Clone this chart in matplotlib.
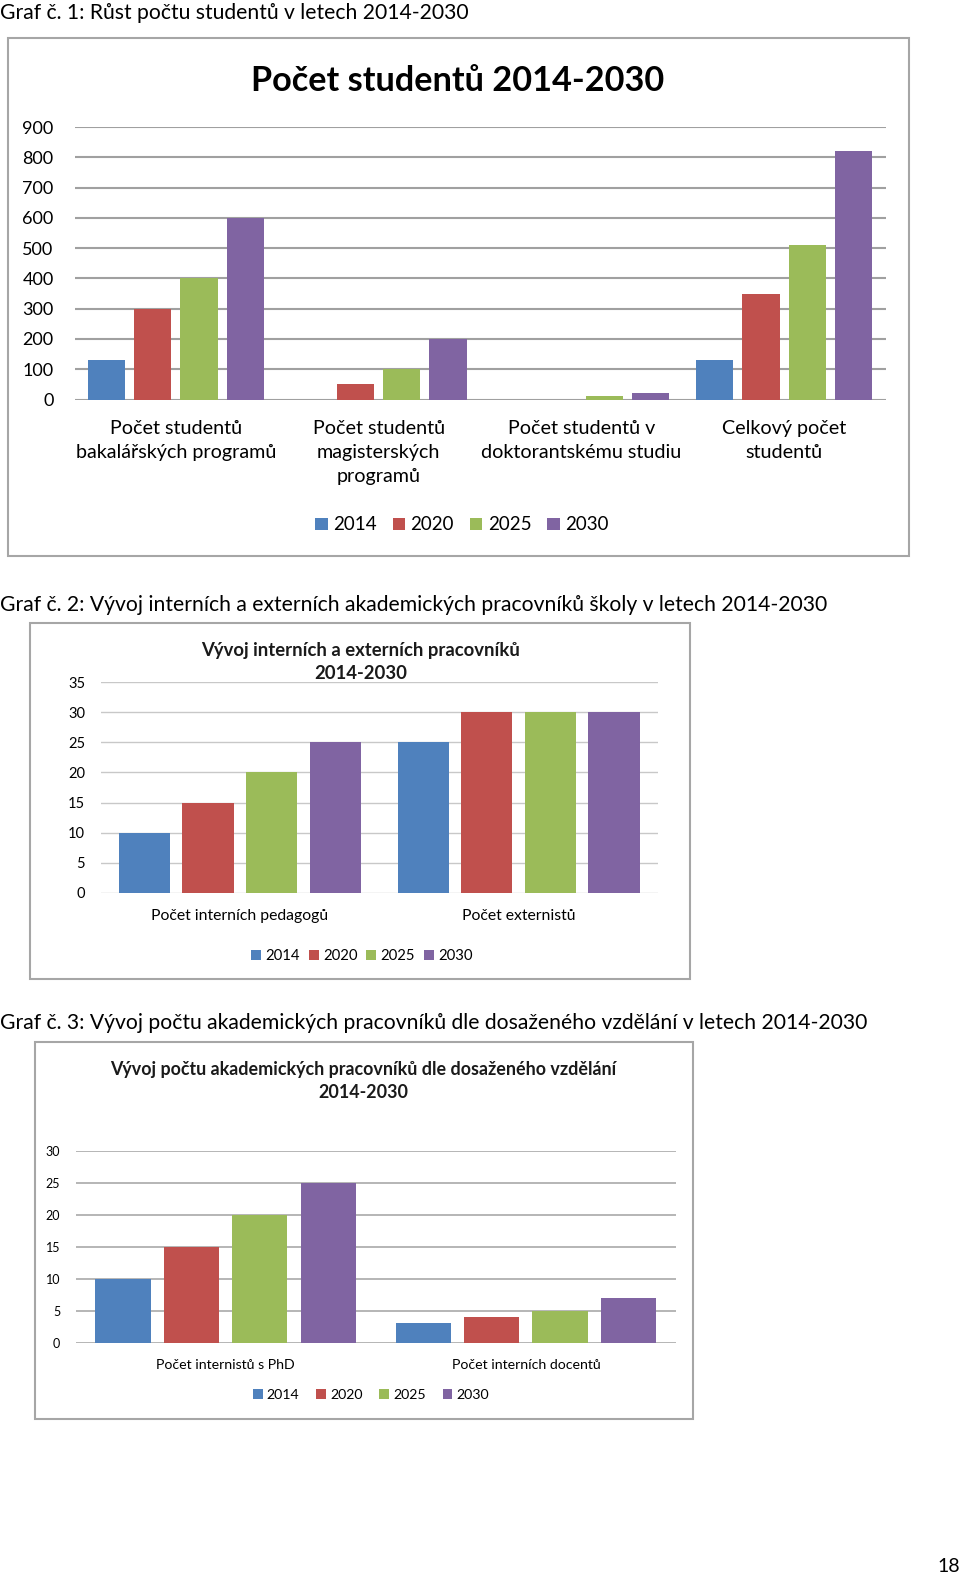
import matplotlib
matplotlib.use("Agg")
import matplotlib.pyplot as plt
from matplotlib.patches import Rectangle, Patch
import numpy as np

plt.rcParams['font.family'] = ['Lato', 'DejaVu Sans']

years = ["2014", "2020", "2025", "2030"]
colors = ["#4F81BD", "#C0504D", "#9BBB59", "#8064A2"]

# Graf 1
g1_cats = ["Počet studentů\nbakalářských programů",
           "Počet studentů\nmagisterských\nprogramů",
           "Počet studentů v\ndoktorantskému studiu",
           "Celkový počet\nstudentů"]
g1_2014 = [130, 0, 0, 130]
g1_2020 = [300, 50, 0, 350]
g1_2025 = [400, 100, 10, 510]
g1_2030 = [600, 200, 20, 820]
g1_ticks = [0, 100, 200, 300, 400, 500, 600, 700, 800, 900]

# Graf 2
g2_cats = ["Počet interních pedagogů", "Počet externistů"]
g2_2014 = [10, 25]
g2_2020 = [15, 30]
g2_2025 = [20, 30]
g2_2030 = [25, 30]
g2_ticks = [0, 5, 10, 15, 20, 25, 30, 35]

# Graf 3
g3_cats = ["Počet internistů s PhD", "Počet interních docentů"]
g3_2014 = [10, 3]
g3_2020 = [15, 4]
g3_2025 = [20, 5]
g3_2030 = [25, 7]
g3_ticks = [0, 5, 10, 15, 20, 25, 30]

W, H = 960, 1578
fig = plt.figure(figsize=(W / 100, H / 100), dpi=100)


def fx(x):
    return x / W


def fy(y):
    return 1 - y / H


def box(x0, y0, x1, y1):
    fig.add_artist(Rectangle((fx(x0), fy(y1)), fx(x1 - x0), (y1 - y0) / H,
                             transform=fig.transFigure, fill=False,
                             edgecolor="#a6a6a6", linewidth=1.5))


def chart(rect, series, cats, ticks, tick_fs, cat_fs, pad, cat_pad,
          grid_color, grid_lw, linesp=1.35, step=0.228, width=0.184):
    x0, y0, x1, y1 = rect
    ax = fig.add_axes([fx(x0), fy(y1), fx(x1 - x0), (y1 - y0) / H])
    idx = np.arange(len(cats))
    for i, vals in enumerate(series):
        ax.bar(idx + (i - 1.5) * step, vals, width, color=colors[i], zorder=3)
    ax.set_xlim(-0.5, len(cats) - 0.5)
    ax.set_ylim(ticks[0], ticks[-1])
    ax.set_yticks(ticks)
    ax.set_yticklabels([str(t) for t in ticks], fontsize=tick_fs)
    for t in ticks:
        ax.axhline(t, color=grid_color, linewidth=grid_lw, zorder=1)
    ax.set_xticks(idx)
    ax.set_xticklabels(cats, fontsize=cat_fs, linespacing=linesp, va="top")
    ax.tick_params(axis="both", length=0)
    ax.tick_params(axis="y", pad=pad)
    ax.tick_params(axis="x", pad=cat_pad)
    for s in ax.spines.values():
        s.set_visible(False)
    return ax


def legend(cx, cy, fs, spacing):
    handles = [Patch(facecolor=c, edgecolor="none") for c in colors]
    fig.legend(handles, years, loc="center", bbox_to_anchor=(fx(cx), fy(cy)),
               ncol=4, frameon=False, fontsize=fs, handlelength=0.65,
               handleheight=0.65, handletextpad=0.3, columnspacing=spacing,
               borderaxespad=0, borderpad=0)


# ---- Graf 1 ----
fig.text(fx(0), fy(13), "Graf č. 1: Růst počtu studentů v letech 2014-2030",
         fontsize=15.2, va="center", ha="left")
box(8, 38, 909, 556)
fig.text(fx(458), fy(81), "Počet studentů 2014-2030", fontsize=24.7,
         fontweight="bold", ha="center", va="center")
chart((74.5, 127, 885.5, 399.5), [g1_2014, g1_2020, g1_2025, g1_2030],
      g1_cats, g1_ticks, 13, 14.2, 15, 15, "#a0a0a0", 1.5, linesp=1.5)
legend(462, 525, 13.5, 0.85)

# ---- Graf 2 ----
fig.text(fx(0), fy(605),
         "Graf č. 2: Vývoj interních a externích akademických pracovníků školy v letech 2014-2030",
         fontsize=15.2, va="center", ha="left")
box(30, 623, 690, 979)
fig.text(fx(361), fy(662), "Vývoj interních a externích pracovníků\n2014-2030",
         fontsize=13.3, fontweight="bold", ha="center", va="center",
         linespacing=1.45, color="#1a1a1a")
chart((100.5, 682.3, 658, 892.7), [g2_2014, g2_2020, g2_2025, g2_2030],
      g2_cats, g2_ticks, 10.5, 11.3, 11, 12, "#c8c8c8", 1.0)
legend(362, 956, 10.7, 0.6)

# ---- Graf 3 ----
fig.text(fx(0), fy(1023),
         "Graf č. 3: Vývoj počtu akademických pracovníků dle dosaženého vzdělání v letech 2014-2030",
         fontsize=15.2, va="center", ha="left")
box(35, 1042, 693, 1419)
fig.text(fx(363), fy(1081),
         "Vývoj počtu akademických pracovníků dle dosaženého vzdělání\n2014-2030",
         fontsize=12.9, fontweight="bold", ha="center", va="center",
         linespacing=1.5, color="#1a1a1a")
chart((75.5, 1151.3, 676, 1342.5), [g3_2014, g3_2020, g3_2025, g3_2030],
      g3_cats, g3_ticks, 9, 10.2, 11, 12, "#b0b0b0", 1.3)
legend(371, 1395, 10.2, 1.2)

fig.text(fx(949), fy(1567), "18", fontsize=14, ha="center", va="center")

fig.savefig("out.png", dpi=100)
